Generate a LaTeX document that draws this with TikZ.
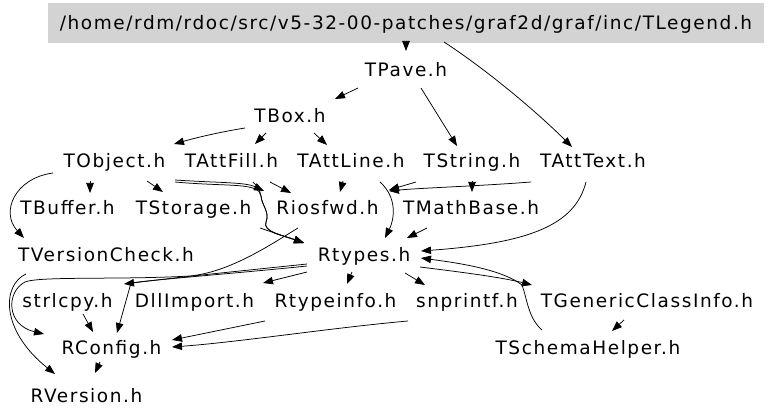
\documentclass[tikz,border=0pt]{standalone}
\usepackage{fontspec}
\newfontfamily\dvs[LetterSpace=8.5]{DejaVu Sans}
\usetikzlibrary{arrows.meta}
\definecolor{boxgray}{RGB}{211,211,211}
\begin{document}
\begin{tikzpicture}[x=1pt,y=-1pt,
  lbl/.style={anchor=base, inner sep=0pt, font=\dvs\fontsize{18.5}{21}\selectfont},
  edge/.style={-{Triangle[length=10pt,width=7.5pt]}, line width=0.75pt, black},
]
\useasboundingbox (0,0) rectangle (768,419);
% nodes
\node[lbl, anchor=center, fill=boxgray, minimum width=716pt, minimum height=40pt, text height=14pt, text depth=0pt] (L) at (406,23) {/home/rdm/rdoc/src/v5-32-00-patches/graf2d/graf/inc/TLegend.h};
\node[lbl] (P)   at (406,77)   {TPave.h};
\node[lbl] (B)   at (290,123)  {TBox.h};
\node[lbl] (O)   at (114.5,168) {TObject.h};
\node[lbl] (F)   at (231.5,168) {TAttFill.h};
\node[lbl] (Li)  at (351,168)  {TAttLine.h};
\node[lbl] (S)   at (472,168)  {TString.h};
\node[lbl] (Tx)  at (593,168)  {TAttText.h};
\node[lbl] (Bu)  at (67.5,215) {TBuffer.h};
\node[lbl] (St)  at (193.5,215) {TStorage.h};
\node[lbl] (Ri)  at (327.5,215) {Riosfwd.h};
\node[lbl] (M)   at (471,215)  {TMathBase.h};
\node[lbl] (V)   at (106,262)  {TVersionCheck.h};
\node[lbl] (R)   at (364,262)  {Rtypes.h};
\node[lbl] (sl)  at (67.5,308) {strlcpy.h};
\node[lbl] (D)   at (194.5,308) {DllImport.h};
\node[lbl] (Rti) at (335.5,308) {Rtypeinfo.h};
\node[lbl] (sn)  at (467,308)  {snprintf.h};
\node[lbl] (G)   at (647,308)  {TGenericClassInfo.h};
\node[lbl] (SH)  at (588,355)  {TSchemaHelper.h};
\node[lbl] (C)   at (111.5,355) {RConfig.h};
\node[lbl] (RV)  at (86.5,402) {RVersion.h};
% edges
\draw[edge] ([shift={(0,13)}]L.base) -- ([shift={(0,-26)}]P.base);
\draw[edge] ([shift={(38,12)}]L.base) .. controls (490,72) and (540,115) .. ([shift={(-21,-21)}]Tx.base);
\draw[edge] ([shift={(-48,11)}]P.base) -- ([shift={(45,-24)}]B.base);
\draw[edge] ([shift={(15,11)}]P.base) -- ([shift={(-15,-22)}]S.base);
\draw[edge] ([shift={(-45,5)}]B.base) .. controls (220,132) and (195,138) .. ([shift={(59.5,-24)}]O.base);
\draw[edge] ([shift={(-24,10)}]B.base) -- ([shift={(23.5,-24)}]F.base);
\draw[edge] ([shift={(24,10)}]B.base) -- ([shift={(-24,-23)}]Li.base);
\draw[edge] ([shift={(-24.5,13)}]O.base) -- ([shift={(22.5,-22)}]Bu.base);
\draw[edge] ([shift={(32.5,13)}]O.base) -- ([shift={(-30.5,-23)}]St.base);
\draw[edge] ([shift={(60.5,12)}]O.base) .. controls (220,183) and (245,182) .. ([shift={(-63.5,-24)}]Ri.base);
\draw[edge] ([shift={(60.5,14)}]O.base) .. controls (230,187) and (259,182) .. (261,196)
  .. controls (262,206) and (270,212) .. (266,222) .. controls (262,232) and (285,236) .. ([shift={(-60,-19)}]R.base);
\draw[edge] ([shift={(21.5,14)}]F.base) .. controls (257,186) and (260,190) .. (261,196)
  .. controls (262,206) and (270,212) .. (266,222) .. controls (262,232) and (285,236) .. ([shift={(-60,-19)}]R.base);
\draw[edge] ([shift={(66.5,13)}]St.base) -- ([shift={(-60,-19)}]R.base);
\draw[edge] ([shift={(38.5,14)}]F.base) -- ([shift={(-36.5,-22)}]Ri.base);
\draw[edge] ([shift={(-8,13)}]Li.base) -- ([shift={(12.5,-23)}]Ri.base);
\draw[edge] ([shift={(29,14)}]Li.base) .. controls (398,198) and (394,220) .. ([shift={(21,-24)}]R.base);
\draw[edge] ([shift={(-56,14)}]S.base) -- ([shift={(61.5,-25)}]Ri.base);
\draw[edge] ([shift={(-62,14)}]Tx.base) .. controls (480,186) and (420,188) .. ([shift={(61.5,-24)}]Ri.base);
\draw[edge] ([shift={(0,13)}]S.base) -- ([shift={(1,-23)}]M.base);
\draw[edge] ([shift={(-44,13)}]M.base) -- ([shift={(43,-24)}]R.base);
\draw[edge] ([shift={(-7,14)}]Tx.base) .. controls (575,225) and (530,243) .. ([shift={(57,-11)}]R.base);
\draw[edge] ([shift={(-61.5,5)}]O.base) .. controls (15,178) and (0,212) .. ([shift={(-82,-24)}]V.base);
\draw[edge] ([shift={(-57,2)}]R.base) .. controls (250,270) and (180,277) .. ([shift={(56.5,-24)}]sl.base);
\draw[edge] ([shift={(-57,4)}]R.base) .. controls (240,273) and (160,279) .. (131,283) -- ([shift={(5.5,-22)}]C.base);
\draw[edge] ([shift={(-29.5,13)}]Ri.base) .. controls (270,245) and (230,272) .. (190,276)
  .. controls (120,280) and (40,276) .. (25,282) .. controls (6,292) and (6,325) .. ([shift={(-67.5,-21)}]C.base);
\draw[edge] ([shift={(-80,12)}]V.base) .. controls (2,285) and (0,330) .. ([shift={(-31.5,-28)}]RV.base);
\draw[edge] ([shift={(15.5,6)}]sl.base) -- ([shift={(-18.5,-23)}]C.base);
\draw[edge] ([shift={(-70.5,13)}]Rti.base) -- ([shift={(60.5,-15)}]C.base);
\draw[edge] ([shift={(-59,13)}]sn.base) .. controls (330,328) and (240,342) .. ([shift={(60.5,-8)}]C.base);
\draw[edge] ([shift={(-11.5,7)}]C.base) -- ([shift={(8.5,-29)}]RV.base);
\draw[edge] ([shift={(-57,10)}]R.base) -- ([shift={(68.5,-25)}]D.base);
\draw[edge] ([shift={(-12,10)}]R.base) -- ([shift={(11.5,-24)}]Rti.base);
\draw[edge] ([shift={(41,11)}]R.base) -- ([shift={(-42,-23)}]sn.base);
\draw[edge] ([shift={(56,5)}]R.base) .. controls (460,272) and (500,277) .. ([shift={(-115,-23)}]G.base);
\draw[edge] ([shift={(-46,-25)}]SH.base) .. controls (528,318) and (527,298) .. (522,285)
  .. controls (500,268) and (450,262) .. ([shift={(57,-4)}]R.base);
\draw[edge] ([shift={(-23,12)}]G.base) -- ([shift={(24,-24)}]SH.base);
\end{tikzpicture}
\end{document}
